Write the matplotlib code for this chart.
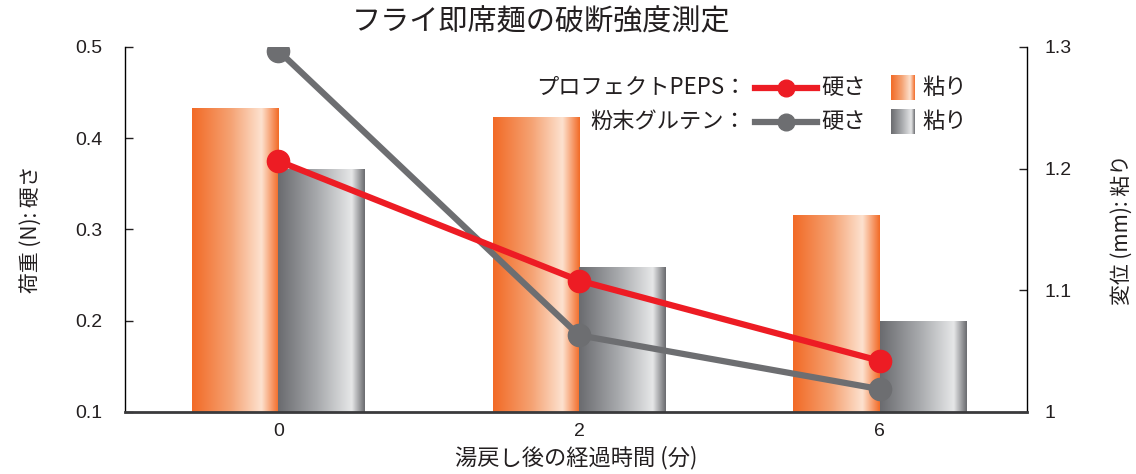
import matplotlib.pyplot as plt
import numpy as np
from matplotlib.colors import LinearSegmentedColormap

plt.rcParams['font.family'] = ['Noto Sans CJK JP', 'DejaVu Sans']
plt.rcParams['text.color'] = '#231f20'
plt.rcParams['axes.labelcolor'] = '#231f20'
plt.rcParams['xtick.color'] = '#231f20'
plt.rcParams['ytick.color'] = '#231f20'

# data
times = ['0', '2', '6']
peps_hard = [0.375, 0.244, 0.156]      # 荷重 (N)
gluten_hard = [0.496, 0.184, 0.125]
peps_sticky = [1.250, 1.242, 1.162]    # 変位 (mm)
gluten_sticky = [1.200, 1.119, 1.075]

red = '#ed1c24'
gray = '#6d6e71'
orange_cmap = LinearSegmentedColormap.from_list(
    'og', [(0, '#f26a26'), (0.45, '#f5a374'), (0.8, '#fde2cf'), (1, '#f26a26')])
gray_cmap = LinearSegmentedColormap.from_list(
    'gg', [(0, '#6a6b6f'), (0.45, '#a7a9ac'), (0.85, '#e6e7e8'), (1, '#6a6b6f')])
grad = np.linspace(0, 1, 256).reshape(1, -1)
num_font = ['Liberation Sans', 'DejaVu Sans']

fig = plt.figure(figsize=(11.36, 4.74), dpi=100)
ax = fig.add_axes([0.110, 0.131, 0.794, 0.770])
ax2 = ax.twinx()
ax.set_zorder(2)
ax2.set_zorder(1)
ax.patch.set_visible(False)

x = np.arange(len(times))
w = 0.287
base = 1.0

bars_o = ax2.bar(x - w, np.array(peps_sticky) - base, w, bottom=base, align='edge',
                 color='none', linewidth=0)
bars_g = ax2.bar(x, np.array(gluten_sticky) - base, w, bottom=base, align='edge',
                 color='none', linewidth=0)
for bars, cmap in [(bars_o, orange_cmap), (bars_g, gray_cmap)]:
    for r in bars:
        x0, y0 = r.get_xy()
        rw, rh = r.get_width(), r.get_height()
        im = ax2.imshow(grad, extent=[x0, x0 + rw, y0, y0 + rh], cmap=cmap,
                        aspect='auto', interpolation='bicubic', zorder=1)
        im.set_clip_path(r)

ax.plot(x, gluten_hard, color=gray, lw=4.5, marker='o', ms=16, zorder=3)
ax.plot(x, peps_hard, color=red, lw=4.5, marker='o', ms=16, zorder=4)

ax.set_xlim(-0.51, 2.49)
ax.set_ylim(0.1, 0.5)
ax2.set_ylim(1.0, 1.3)
ax2.set_xlim(-0.51, 2.49)
ax.set_yticks([0.1, 0.2, 0.3, 0.4, 0.5])
ax2.set_yticks([1.0, 1.1, 1.2, 1.3])
ax.set_yticklabels(['0.1', '0.2', '0.3', '0.4', '0.5'], family=num_font)
ax2.set_yticklabels(['1', '1.1', '1.2', '1.3'], family=num_font)
ax.set_xticks(x)
ax.set_xticklabels(times, family=num_font)

for a in (ax, ax2):
    a.spines['top'].set_visible(False)
    a.spines['bottom'].set_visible(False)
    a.spines['left'].set_linewidth(1.0)
    a.spines['right'].set_linewidth(1.0)
ax.spines['right'].set_visible(False)
ax2.spines['left'].set_visible(False)
ax.spines['bottom'].set_visible(True)
ax.spines['bottom'].set_linewidth(2.0)
ax.spines['bottom'].set_color('#3a3a3c')

ax.tick_params(axis='y', direction='in', length=6, width=1, pad=16, labelsize=14)
ax2.tick_params(axis='y', direction='in', length=6, width=1, pad=13, labelsize=14)
ax.tick_params(axis='x', length=0, pad=8, labelsize=14)

ax.set_xlabel('湯戻し後の経過時間 (分)', fontsize=16, labelpad=4)
ax.set_ylabel('荷重 (N): 硬さ', fontsize=15, labelpad=24)
ax2.set_ylabel('変位 (mm): 粘り', fontsize=15, labelpad=28)

fig.text(0.476, 0.952, 'フライ即席麺の破断強度測定', ha='center', va='center', fontsize=21)

# legend drawn by hand
rows = [(0.888, 'プロフェクトPEPS：', red, orange_cmap),
        (0.795, '粉末グルテン：', gray, gray_cmap)]
for ry, name, lc, cmap in rows:
    ax.text(0.689, ry, name, transform=ax.transAxes, ha='right', va='center', fontsize=16)
    ax.plot([0.698, 0.767], [ry, ry], transform=ax.transAxes, color=lc, lw=4.5,
            clip_on=False, zorder=5)
    ax.plot([0.733], [ry], transform=ax.transAxes, color=lc, marker='o', ms=12,
            clip_on=False, zorder=6)
    ax.text(0.772, ry, '硬さ', transform=ax.transAxes, ha='left', va='center', fontsize=16)
    ax.text(0.884, ry, '粘り', transform=ax.transAxes, ha='left', va='center', fontsize=16)
    fy = 0.131 + 0.770 * ry
    pax = fig.add_axes([891 / 1136, fy - 12.5 / 474, 24 / 1136, 25 / 474])
    pax.imshow(grad, cmap=cmap, aspect='auto', interpolation='bicubic')
    pax.axis('off')

fig.savefig('out.png', dpi=100, facecolor='white')
